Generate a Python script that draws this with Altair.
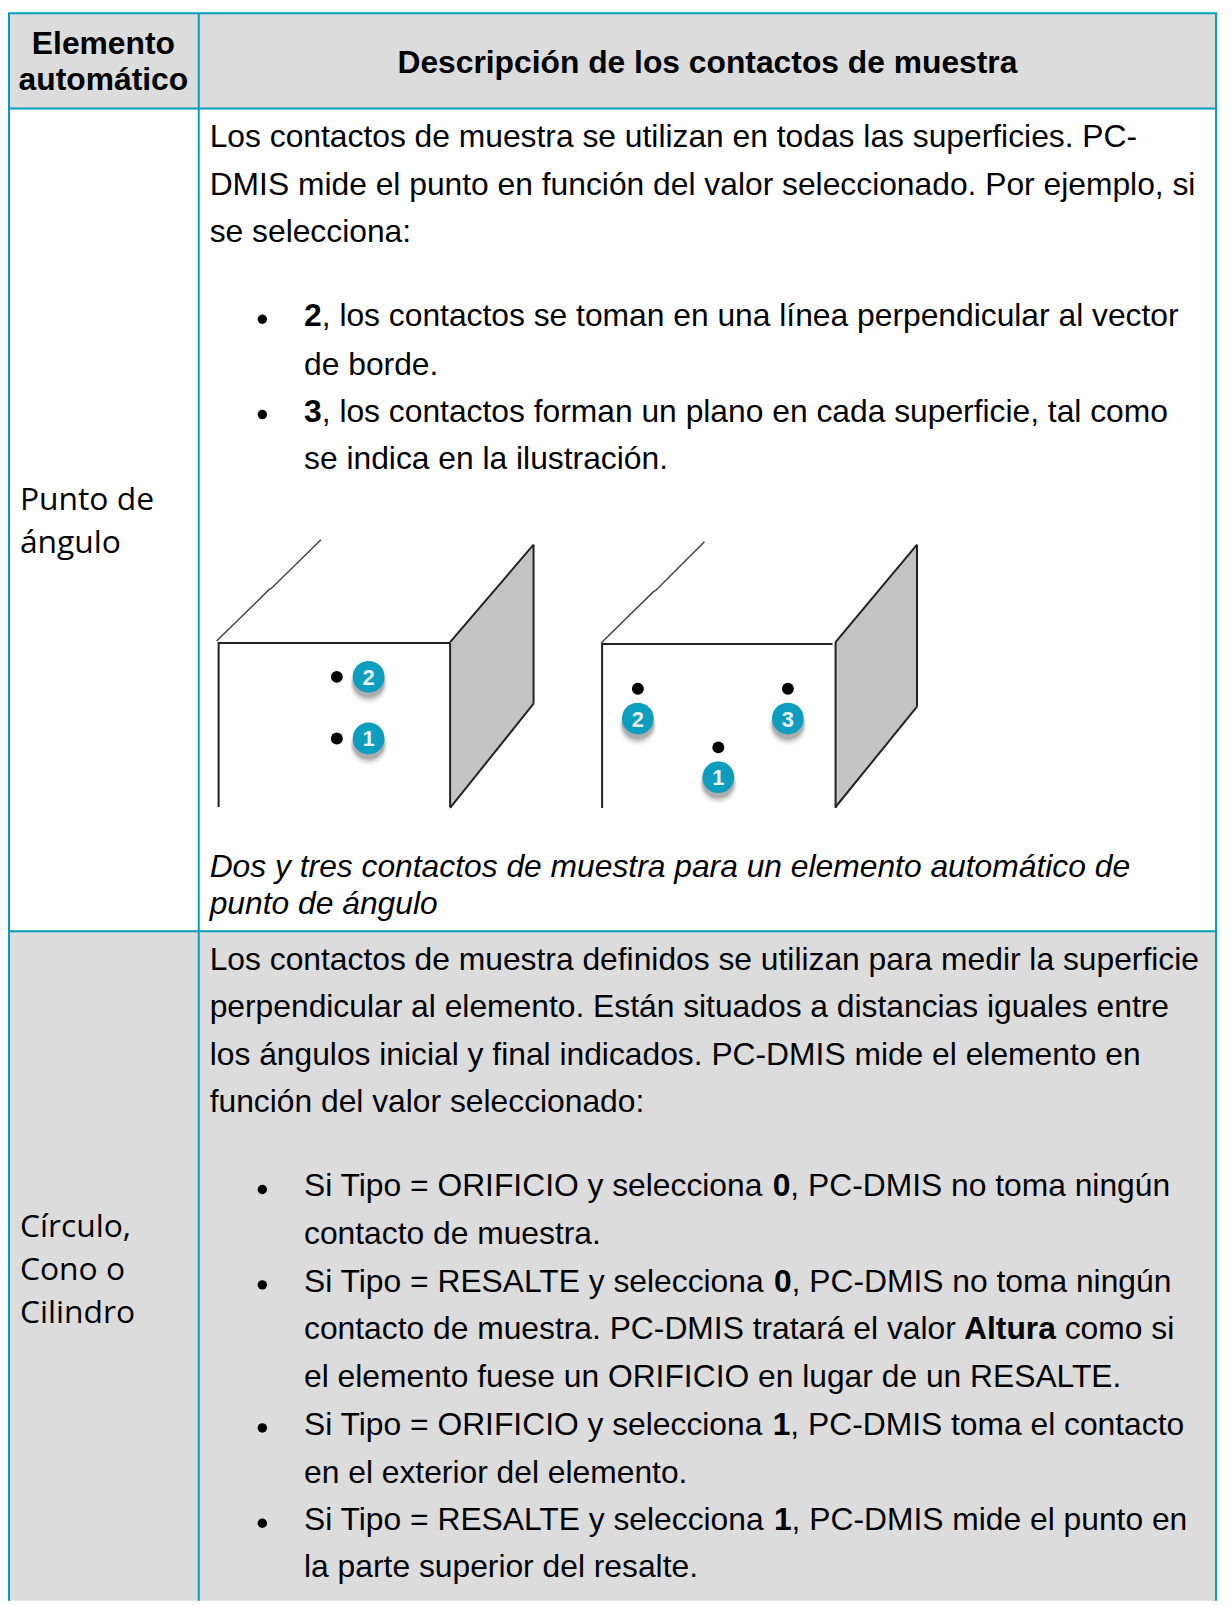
import altair as alt
import pandas as pd

# palette / type sizes
TEAL = "#069BBD"
HEAD = "#DCDCDC"
BODY_FS = 32
FACE = "#C4C4C4"

# table geometry, read in picture pixels
band_x1 = [8, 8]
band_x2 = [1224, 1224]
band_y1 = [8, 932]
band_y2 = [104, 1606]

vrule_x = [9, 200, 1224]
hrule_y = [8, 104, 932]

# plain body lines
body_x = [211] * 3 + [306] * 2 + [211] * 4 + [306] * 4
body_y = [143, 191, 238, 372, 467, 971, 1018, 1067, 1114, 1247, 1391, 1487, 1582]
body_t = [
    "Los contactos de muestra se utilizan en todas las superficies. PC-",
    "DMIS mide el punto en función del valor seleccionado. Por ejemplo, si",
    "se selecciona:",
    "de borde.",
    "se indica en la ilustración.",
    "Los contactos de muestra definidos se utilizan para medir la superficie",
    "perpendicular al elemento. Están situados a distancias iguales entre",
    "los ángulos inicial y final indicados. PC-DMIS mide el elemento en",
    "función del valor seleccionado:",
    "contacto de muestra.",
    "el elemento fuese un ORIFICIO en lugar de un RESALTE.",
    "en el exterior del elemento.",
    "la parte superior del resalte.",
]

# mixed lines: lead-in, bold word, tail; widths are in em of the body type
mixed_y = [323, 419, 1199, 1295, 1343, 1439, 1535]
mixed_lead = ["", "", "Si Tipo = ORIFICIO y selecciona", "Si Tipo = RESALTE y selecciona",
              "contacto de muestra. PC-DMIS tratará el valor",
              "Si Tipo = ORIFICIO y selecciona", "Si Tipo = RESALTE y selecciona"]
mixed_lead_em = [0, 0, 14.74, 14.78, 20.76, 14.74, 14.78]
mixed_bold = ["2", "3", "0", "0", "Altura", "1", "1"]
mixed_bold_em = [0.556, 0.556, 0.556, 0.556, 3.167, 0.556, 0.556]
mixed_tail = [", los contactos se toman en una línea perpendicular al vector",
              ", los contactos forman un plano en cada superficie, tal como",
              ", PC-DMIS no toma ningún", ", PC-DMIS no toma ningún", "como si",
              ", PC-DMIS toma el contacto", ", PC-DMIS mide el punto en"]

bullet_y = [316, 412, 1192, 1288, 1432, 1528]

head_x = [104, 104, 712]
head_y = [49, 85, 68]
head_t = ["Elemento", "automático", "Descripción de los contactos de muestra"]

left_y = [508, 551, 1240, 1283, 1326]
left_t = ["Punto de", "ángulo", "Círculo,", "Cono o", "Cilindro"]

cap_y = [877, 915]
cap_t = ["Dos y tres contactos de muestra para un elemento automático de", "punto de ángulo"]

# drawings: the box outlines
line_id = ["a1"] * 2 + ["a3"] * 2 + ["a4"] * 2 + ["a5"] * 2 + ["a6"] * 2 + ["a7"] * 2 + \
          ["b1"] * 2 + ["b3"] * 2 + ["b4"] * 2 + ["b5"] * 2 + ["b6"] * 2 + ["b7"] * 2
line_x = [220, 220, 220, 453, 453, 453, 453, 537, 537, 537, 453, 537,
          606, 606, 606, 838, 841, 841, 841, 923, 923, 923, 841, 923]
line_y = [641, 807, 642, 642, 642, 807, 641, 543, 543, 703, 808, 703,
          642, 808, 643, 643, 641, 808, 641, 543, 543, 706, 807, 706]

# the thinner receding edges
edge_id = ["a"] * 4 + ["b"] * 4
edge_x = [218, 271, 273, 323, 605, 658, 660, 709]
edge_y = [640, 588, 587, 538, 642, 590, 589, 540]

face_id = ["a", "a", "b", "b"]
face_x = [453, 537, 841, 923]
face_top = [641, 543, 641, 543]
face_bot = [808, 703, 807, 706]

dot_x = [339, 339, 642, 793, 723]
dot_y = [676, 738, 688, 688, 747]

badge_x = [371, 371, 642, 793, 723]
badge_y = [676, 738, 718, 718, 777]
badge_t = ["2", "1", "2", "3", "1"]

# ---------------------------------------------------------------
X = alt.Scale(domain=[8, 1232], range=[0, 1224], nice=False, zero=False)
Y = alt.Scale(domain=[8, 1606], range=[0, 1598], nice=False, zero=False)


def px(f="x:Q"):
    return alt.X(f, scale=X, axis=None)


def py(f="y:Q"):
    return alt.Y(f, scale=Y, axis=None)


def texts(xs, ys, ts, size, font="Liberation Sans", weight="normal", style="normal",
          align="left", color="#000000"):
    df = pd.DataFrame({"x": xs, "y": ys, "t": ts})
    return alt.Chart(df).mark_text(
        align=align, baseline="alphabetic", fontSize=size, font=font, fontWeight=weight,
        fontStyle=style, color=color
    ).encode(x=px(), y=py(), text="t:N")


bands = alt.Chart(pd.DataFrame({"x": band_x1, "x2": band_x2, "y": band_y1, "y2": band_y2})).mark_rect(
    color=HEAD).encode(x=px(), x2="x2:Q", y=py(), y2="y2:Q")
vr = alt.Chart(pd.DataFrame({"x": vrule_x, "y": [8] * 3, "y2": [1606] * 3})).mark_rule(
    color=TEAL, strokeWidth=2).encode(x=px(), y=py(), y2="y2:Q")
hr = alt.Chart(pd.DataFrame({"y": hrule_y, "x": [8] * 3, "x2": [1225] * 3})).mark_rule(
    color=TEAL, strokeWidth=2).encode(y=py(), x=px(), x2="x2:Q")

faces = alt.Chart(pd.DataFrame({"id": face_id, "x": face_x, "y": face_top, "y2": face_bot})).mark_area(
    color=FACE, interpolate="linear").encode(x=px(), y=py(), y2="y2:Q", detail="id:N")
lines = alt.Chart(pd.DataFrame({"id": line_id, "x": line_x, "y": line_y, "o": range(len(line_x))})).mark_line(
    color="#222222", strokeWidth=2).encode(x=px(), y=py(), detail="id:N", order=alt.Order("o:Q"))
edges = alt.Chart(pd.DataFrame({"id": edge_id, "x": edge_x, "y": edge_y, "o": range(len(edge_x))})).mark_line(
    color="#444444", strokeWidth=1.5).encode(x=px(), y=py(), detail="id:N", order=alt.Order("o:Q"))

bd = pd.DataFrame({"x": badge_x, "y": badge_y, "t": badge_t})
shadows = []
for grow, dy, op in [(1024 + 420, 8, 0.04), (1024 + 260, 7, 0.07), (1024 + 110, 6, 0.10), (1024, 5, 0.14)]:
    shadows.append(
        alt.Chart(bd).transform_calculate(ys=f"datum.y + {dy}").mark_point(
            shape="circle", filled=True, color="#000000", opacity=op, size=grow, strokeWidth=0
        ).encode(x=px(), y=py("ys:Q"))
    )
badges = alt.Chart(bd).mark_point(shape="circle", filled=True, color="#0D9DBF", opacity=1, size=1024,
                                  strokeWidth=0).encode(x=px(), y=py())
badge_nums = alt.Chart(bd).transform_calculate(ty="datum.y + 8").mark_text(
    align="center", baseline="alphabetic", fontSize=22, font="Liberation Sans", fontWeight="bold",
    color="#EAF6FA"
).encode(x=px(), y=py("ty:Q"), text="t:N")
dots = alt.Chart(pd.DataFrame({"x": dot_x, "y": dot_y})).mark_point(
    shape="circle", filled=True, color="#000000", opacity=1, size=144, strokeWidth=0
).encode(x=px(), y=py())
bullets = alt.Chart(pd.DataFrame({"x": [264] * len(bullet_y), "y": bullet_y})).mark_point(
    shape="circle", filled=True, color="#000000", opacity=1, size=90, strokeWidth=0
).encode(x=px(), y=py())

mixed_x0 = [306 + e * BODY_FS for e in mixed_lead_em]
mixed_x1 = [x + e * BODY_FS for x, e in zip(mixed_x0, mixed_bold_em)]

layers = [
    bands, vr, hr, faces, lines, edges, *shadows, badges, badge_nums, dots, bullets,
    texts(head_x, head_y, head_t, BODY_FS, weight="bold", align="center"),
    texts([20] * 5, left_y, left_t, BODY_FS, font="Open Sans"),
    texts(body_x, body_y, body_t, BODY_FS),
    texts([306] * 7, mixed_y, mixed_lead, BODY_FS),
    texts(mixed_x0, mixed_y, mixed_bold, BODY_FS, weight="bold"),
    texts(mixed_x1, mixed_y, mixed_tail, BODY_FS),
    texts([211, 211], cap_y, cap_t, BODY_FS, style="italic"),
]

chart = alt.layer(*layers).properties(
    width=1224, height=1598, padding=0, autosize=alt.AutoSizeParams(type="none"),
    background="#FFFFFF",
).configure_view(strokeWidth=0)

chart.save("out.html", embed_options={"renderer": "svg", "actions": False})
